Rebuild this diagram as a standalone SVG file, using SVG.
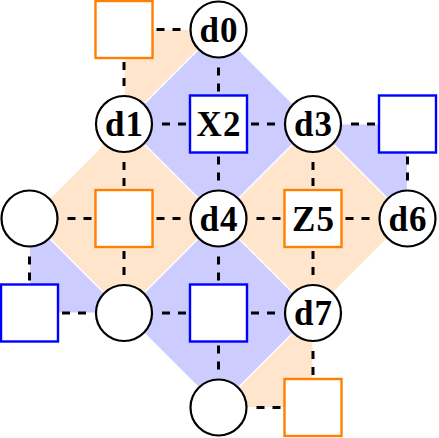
<svg xmlns="http://www.w3.org/2000/svg" width="439" height="438" viewBox="0 0 439 438">
<style>
.zf{fill:#FFE5CC;stroke:#FFFFFF;stroke-width:1.2}
.xf{fill:#CCCCFF;stroke:#FFFFFF;stroke-width:1.2}
.e{stroke:#000;stroke-width:3;stroke-dasharray:0 38 8 8 8 40;fill:none}
.d{fill:#FFF;stroke:#000;stroke-width:2.2}
.za{fill:#FFF;stroke:#FF8000;stroke-width:2.4}
.xa{fill:#FFF;stroke:#0000FF;stroke-width:2.4}
.t{font-family:"Liberation Serif",serif;font-weight:bold;font-size:35px;letter-spacing:1px;text-anchor:middle;fill:#000}
</style>
<g id="plaquettes">
<polygon class="zf" points="124,29.5 218.5,29.5 124,124"/>
<polygon class="xf" points="218.5,29.5 313,124 218.5,218.5 124,124"/>
<polygon class="xf" points="313,124 407.5,124 407.5,218.5"/>
<polygon class="zf" points="124,124 218.5,218.5 124,313 29.5,218.5"/>
<polygon class="zf" points="313,124 407.5,218.5 313,313 218.5,218.5"/>
<polygon class="xf" points="29.5,218.5 29.5,313 124,313"/>
<polygon class="xf" points="218.5,218.5 313,313 218.5,407.5 124,313"/>
<polygon class="zf" points="313,313 313,407.5 218.5,407.5"/>
</g>
<g id="connectors">
<line class="e" x1="218.5" y1="29.5" x2="124" y2="29.5"/>
<line class="e" x1="124" y1="124" x2="124" y2="29.5"/>
<line class="e" x1="218.5" y1="29.5" x2="218.5" y2="124"/>
<line class="e" x1="124" y1="124" x2="218.5" y2="124"/>
<line class="e" x1="313" y1="124" x2="218.5" y2="124"/>
<line class="e" x1="313" y1="124" x2="407.5" y2="124"/>
<line class="e" x1="218.5" y1="218.5" x2="218.5" y2="124"/>
<line class="e" x1="124" y1="124" x2="124" y2="218.5"/>
<line class="e" x1="313" y1="124" x2="313" y2="218.5"/>
<line class="e" x1="407.5" y1="218.5" x2="407.5" y2="124"/>
<line class="e" x1="29.5" y1="218.5" x2="124" y2="218.5"/>
<line class="e" x1="218.5" y1="218.5" x2="124" y2="218.5"/>
<line class="e" x1="218.5" y1="218.5" x2="313" y2="218.5"/>
<line class="e" x1="407.5" y1="218.5" x2="313" y2="218.5"/>
<line class="e" x1="29.5" y1="218.5" x2="29.5" y2="313"/>
<line class="e" x1="124" y1="313" x2="124" y2="218.5"/>
<line class="e" x1="218.5" y1="218.5" x2="218.5" y2="313"/>
<line class="e" x1="313" y1="313" x2="313" y2="218.5"/>
<line class="e" x1="124" y1="313" x2="29.5" y2="313"/>
<line class="e" x1="124" y1="313" x2="218.5" y2="313"/>
<line class="e" x1="313" y1="313" x2="218.5" y2="313"/>
<line class="e" x1="218.5" y1="407.5" x2="218.5" y2="313"/>
<line class="e" x1="313" y1="313" x2="313" y2="407.5"/>
<line class="e" x1="218.5" y1="407.5" x2="313" y2="407.5"/>
</g>
<g id="a_z0"><rect class="za" x="95.5" y="1" width="57" height="57"/></g>
<g id="d0"><circle class="d" cx="218.5" cy="29.5" r="28"/><text class="t" x="219" y="41.5">d0</text></g>
<g id="d1"><circle class="d" cx="124" cy="124" r="28"/><text class="t" x="124.5" y="136">d1</text></g>
<g id="X2"><rect class="xa" x="190" y="95.5" width="57" height="57"/><text class="t" x="219" y="136">X2</text></g>
<g id="d3"><circle class="d" cx="313" cy="124" r="28"/><text class="t" x="313.5" y="136">d3</text></g>
<g id="a_x1"><rect class="xa" x="379" y="95.5" width="57" height="57"/></g>
<g id="q_a"><circle class="d" cx="29.5" cy="218.5" r="28"/></g>
<g id="a_z1"><rect class="za" x="95.5" y="190" width="57" height="57"/></g>
<g id="d4"><circle class="d" cx="218.5" cy="218.5" r="28"/><text class="t" x="219" y="230.5">d4</text></g>
<g id="Z5"><rect class="za" x="284.5" y="190" width="57" height="57"/><text class="t" x="313.5" y="230.5">Z5</text></g>
<g id="d6"><circle class="d" cx="407.5" cy="218.5" r="28"/><text class="t" x="408" y="230.5">d6</text></g>
<g id="a_x2"><rect class="xa" x="1" y="284.5" width="57" height="57"/></g>
<g id="q_b"><circle class="d" cx="124" cy="313" r="28"/></g>
<g id="a_x3"><rect class="xa" x="190" y="284.5" width="57" height="57"/></g>
<g id="d7"><circle class="d" cx="313" cy="313" r="28"/><text class="t" x="313.5" y="325">d7</text></g>
<g id="q_c"><circle class="d" cx="218.5" cy="407.5" r="28"/></g>
<g id="a_z2"><rect class="za" x="284.5" y="379" width="57" height="57"/></g>
</svg>
